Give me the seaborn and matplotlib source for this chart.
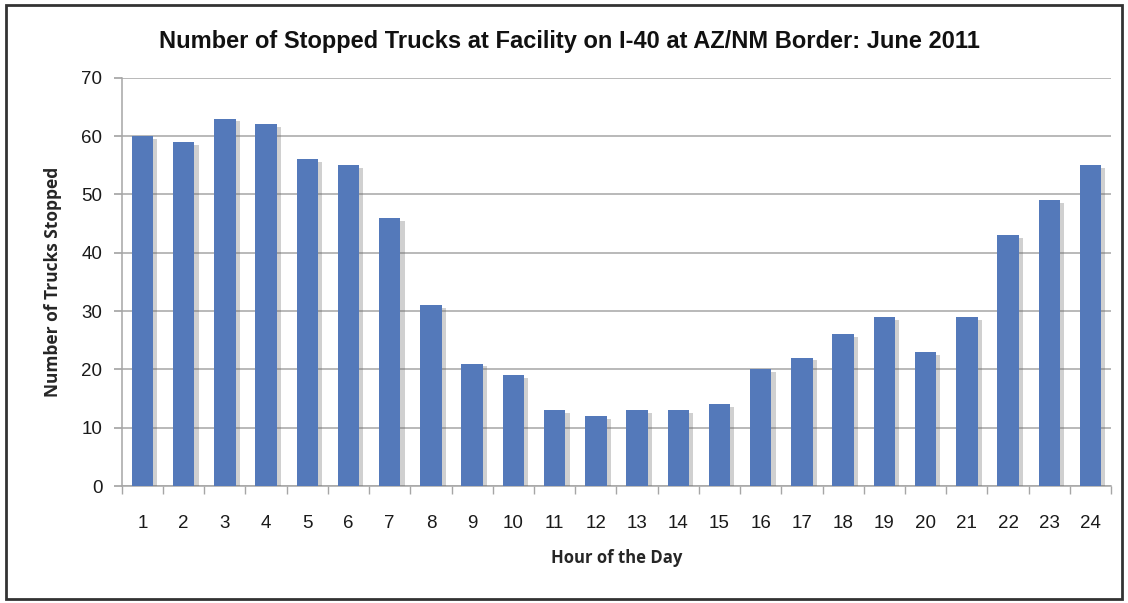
import numpy as np
import pandas as pd
import seaborn as sns
import matplotlib.pyplot as plt
import matplotlib.patheffects as pe
from matplotlib.patches import Rectangle

# hour of the day and trucks stopped
hours = [str(h) for h in range(1, 25)]
trucks = [60, 59, 63, 62, 56, 55, 46, 31, 21, 19, 13, 12,
          13, 13, 14, 20, 22, 26, 29, 23, 29, 43, 49, 55]
y_ticks = [0, 10, 20, 30, 40, 50, 60, 70]

df = pd.DataFrame({"hour": hours, "trucks": trucks})

sns.set_theme(style="white")
plt.rcParams["font.family"] = ["Liberation Sans", "DejaVu Sans"]

fig, ax = plt.subplots(figsize=(11.28, 6.03), dpi=100)
fig.subplots_adjust(left=0.108, right=0.985, top=0.871, bottom=0.194)

sns.barplot(data=df, x="hour", y="trucks", color="#5479BA", width=0.52,
            saturation=1, linewidth=0, ax=ax, zorder=3)
shadow = [pe.SimplePatchShadow(offset=(3, -2), alpha=0.3, shadow_rgbFace="#666666"),
          pe.Normal()]
for bar in ax.patches:
    bar.set_path_effects(shadow)

# axes styling
ax.set_ylim(0, 70)
ax.set_xlim(-0.5, 23.5)
ax.set_yticks(y_ticks)
ax.yaxis.grid(True, color="#A6A6A6", linewidth=1.1, zorder=0)
ax.set_axisbelow(True)
for side in ["top", "right"]:
    ax.spines[side].set_visible(False)
for side in ["left", "bottom"]:
    ax.spines[side].set_color("#A6A6A6")
    ax.spines[side].set_linewidth(1.1)

ax.tick_params(axis="y", which="major", length=6, color="#A6A6A6",
               labelsize=13.5, pad=8, left=True)
ax.tick_params(axis="x", which="major", length=0, labelsize=13.5, pad=21)
ax.set_xticks(np.arange(-0.5, 24, 1), minor=True)
ax.tick_params(axis="x", which="minor", length=6, color="#A6A6A6", bottom=True)
for lab in ax.get_xticklabels() + ax.get_yticklabels():
    lab.set_color("#1a1a1a")

ax.set_xlabel("Hour of the Day", fontsize=12, fontweight="bold",
              family=["Open Sans", "DejaVu Sans"], labelpad=12)
ax.set_ylabel("Number of Trucks Stopped", fontsize=12.5, fontweight="bold",
              family=["Open Sans", "DejaVu Sans"], labelpad=14)

fig.suptitle("Number of Stopped Trucks at Facility on I-40 at AZ/NM Border: June 2011",
             x=0.505, y=0.95, fontsize=17, fontweight="bold", color="#111111")

# outer frame of the chart
fig.patches.append(Rectangle((0.005, 0.006), 0.99, 0.986, transform=fig.transFigure,
                             fill=False, edgecolor="#333333", linewidth=2))

fig.savefig("out.png", dpi=100)
